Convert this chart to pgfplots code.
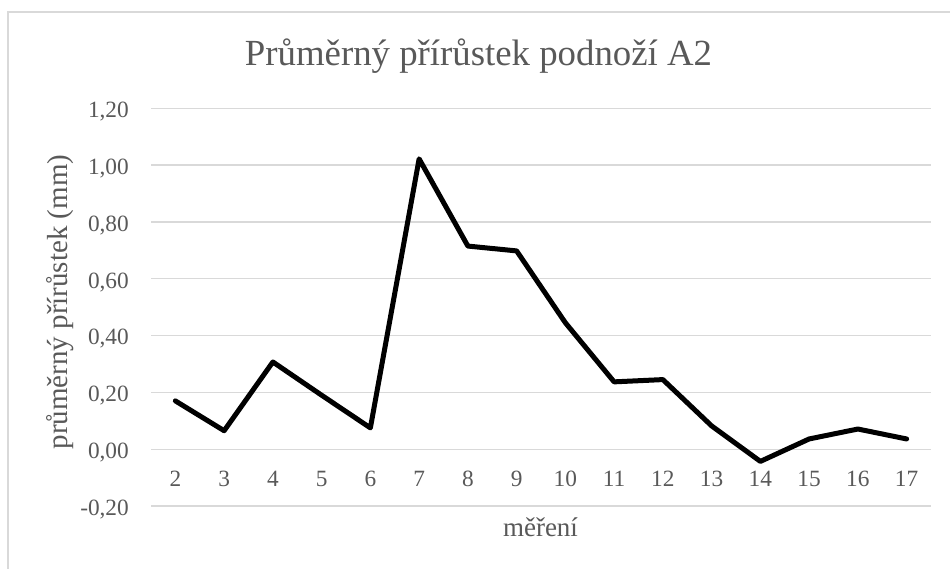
\documentclass[border=0pt]{standalone}
\usepackage{fontspec}
\setmainfont{Liberation Serif}
\usepackage{pgfplots}
\pgfplotsset{compat=1.18}
\definecolor{gridgray}{RGB}{217,217,217}
\definecolor{txtgray}{RGB}{89,89,89}
\begin{document}
\begin{tikzpicture}
\useasboundingbox (0pt,0pt) rectangle (950pt,-569pt);
\fill[white] (0pt,0pt) rectangle (950pt,-569pt);
\draw[gridgray, line width=1.3pt] (8pt,-575pt) -- (8pt,-12pt) -- (960pt,-12pt);
\begin{axis}[
  at={(151pt,-506pt)}, anchor=south west,
  scale only axis, width=780pt, height=397.7pt,
  xmin=1.5, xmax=17.5, ymin=-0.2, ymax=1.2,
  xtick={2,3,4,5,6,7,8,9,10,11,12,13,14,15,16,17},
  xticklabels={2,3,4,5,6,7,8,9,10,11,12,13,14,15,16,17},
  ytick={-0.2,0,0.2,0.4,0.6,0.8,1.0,1.2},
  yticklabels={{-0,20},{0,00},{0,20},{0,40},{0,60},{0,80},{1,00},{1,20}},
  ymajorgrids, grid style={gridgray, line width=1.3pt},
  axis line style={draw=none}, major tick style={draw=none},
  x tick label style={font=\fontsize{23.3}{28}\selectfont, text=txtgray, inner sep=0pt, anchor=base, yshift=20pt},
  y tick label style={font=\fontsize{23.3}{28}\selectfont, text=txtgray, inner sep=0pt, anchor=base east, xshift=-22pt, yshift=-9.3pt},
  clip=false,
]
\addplot[black, line width=5pt, line join=round, line cap=round] coordinates {
(2,0.170) (3,0.065) (4,0.307) (5,0.19) (6,0.075) (7,1.022) (8,0.715) (9,0.698)
(10,0.445) (11,0.237) (12,0.245) (13,0.082) (14,-0.043) (15,0.036) (16,0.071) (17,0.036)
};
\end{axis}
\node[anchor=base, text=txtgray, font=\fontsize{36.8}{44}\selectfont, inner sep=0pt] at (478.5pt,-66pt) {Průměrný přírůstek podnoží A2};
\node[anchor=base, text=txtgray, font=\fontsize{27}{32}\selectfont, inner sep=0pt] at (540.5pt,-536pt) {měření};
\node[anchor=base, rotate=90, text=txtgray, font=\fontsize{29}{34}\selectfont, inner sep=0pt] at (67pt,-302pt) {průměrný přírůstek (mm)};
\end{tikzpicture}
\end{document}
